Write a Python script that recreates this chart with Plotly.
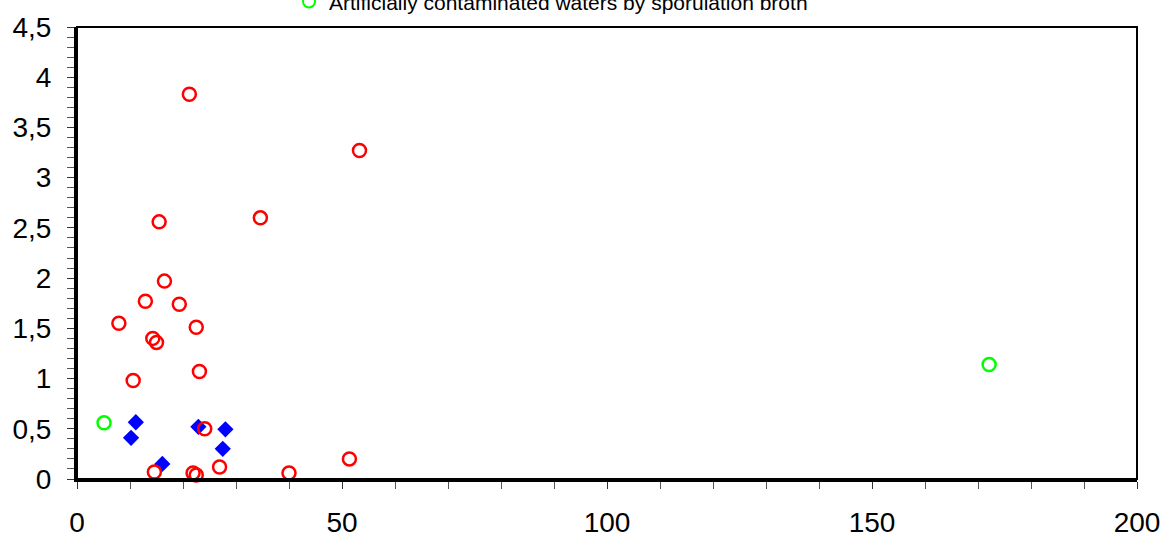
import plotly.graph_objects as go

# Red open circles
red_x = [21.2, 53.3, 15.5, 34.6, 16.5, 12.9, 19.3, 7.9, 22.5, 14.3, 15.0, 23.1, 10.6, 24.1, 51.4, 26.9, 14.6, 21.9, 22.5, 40.0]
red_y = [3.83, 3.27, 2.56, 2.60, 1.97, 1.77, 1.74, 1.55, 1.51, 1.40, 1.36, 1.07, 0.98, 0.50, 0.20, 0.12, 0.07, 0.06, 0.04, 0.06]

# Blue filled diamonds
blue_x = [11.1, 10.2, 22.9, 28.0, 27.5, 16.1]
blue_y = [0.565, 0.41, 0.52, 0.495, 0.30, 0.15]

# Green open circles
green_x = [5.1, 172.1]
green_y = [0.56, 1.14]
green_name = "Artificially contaminated waters by sporulation broth"

FONT = "Liberation Sans, Arial, sans-serif"

fig = go.Figure()
fig.add_trace(go.Scatter(x=blue_x, y=blue_y, mode="markers", showlegend=False,
                         cliponaxis=False,
                         marker=dict(symbol="diamond", size=12.5, color="#0000ff",
                                     line=dict(width=0))))
fig.add_trace(go.Scatter(x=red_x, y=red_y, mode="markers", showlegend=False,
                         cliponaxis=False,
                         marker=dict(symbol="circle-open", size=13, color="#ff0000",
                                     line=dict(width=2.5, color="#ff0000"))))
fig.add_trace(go.Scatter(x=green_x, y=green_y, mode="markers", name=green_name,
                         cliponaxis=False,
                         marker=dict(symbol="circle-open", size=13, color="#00ff00",
                                     line=dict(width=2.5, color="#00ff00"))))

fig.update_layout(
    width=1163, height=536,
    margin=dict(l=77, r=26, t=27, b=57, autoexpand=False),
    paper_bgcolor="white", plot_bgcolor="white",
    separators=", ",
    font=dict(family=FONT, color="black", size=28),
    legend=dict(x=0.2, xanchor="left", y=1.101, yanchor="top",
                font=dict(size=21, family=FONT), bgcolor="rgba(0,0,0,0)",
                itemsizing="constant"),
    shapes=[dict(type="rect", xref="paper", yref="paper", x0=0, x1=1, y0=0, y1=1,
                 line=dict(color="black", width=2), layer="above")],
)
fig.update_xaxes(range=[0, 200], dtick=50, tick0=0, showgrid=False, zeroline=False,
                 showline=True, linecolor="black", linewidth=3,
                 ticks="outside", ticklen=7, tickwidth=1, tickcolor="#333",
                 ticklabelstandoff=9,
                 minor=dict(dtick=10, ticks="outside", ticklen=7, tickwidth=1, tickcolor="#555"),
                 tickfont=dict(size=28, family=FONT))
fig.update_yaxes(range=[0, 4.5], dtick=0.5, tick0=0, showgrid=False, zeroline=False,
                 showline=True, linecolor="black", linewidth=3,
                 ticks="outside", ticklen=7, tickwidth=1, tickcolor="#333",
                 ticklabelstandoff=10,
                 minor=dict(dtick=0.1, ticks="outside", ticklen=7, tickwidth=1, tickcolor="#555"),
                 tickfont=dict(size=28, family=FONT))

fig.write_html("out.html", config={"displayModeBar": False},
               post_script="document.body.style.margin='0';document.body.style.overflow='hidden';")
